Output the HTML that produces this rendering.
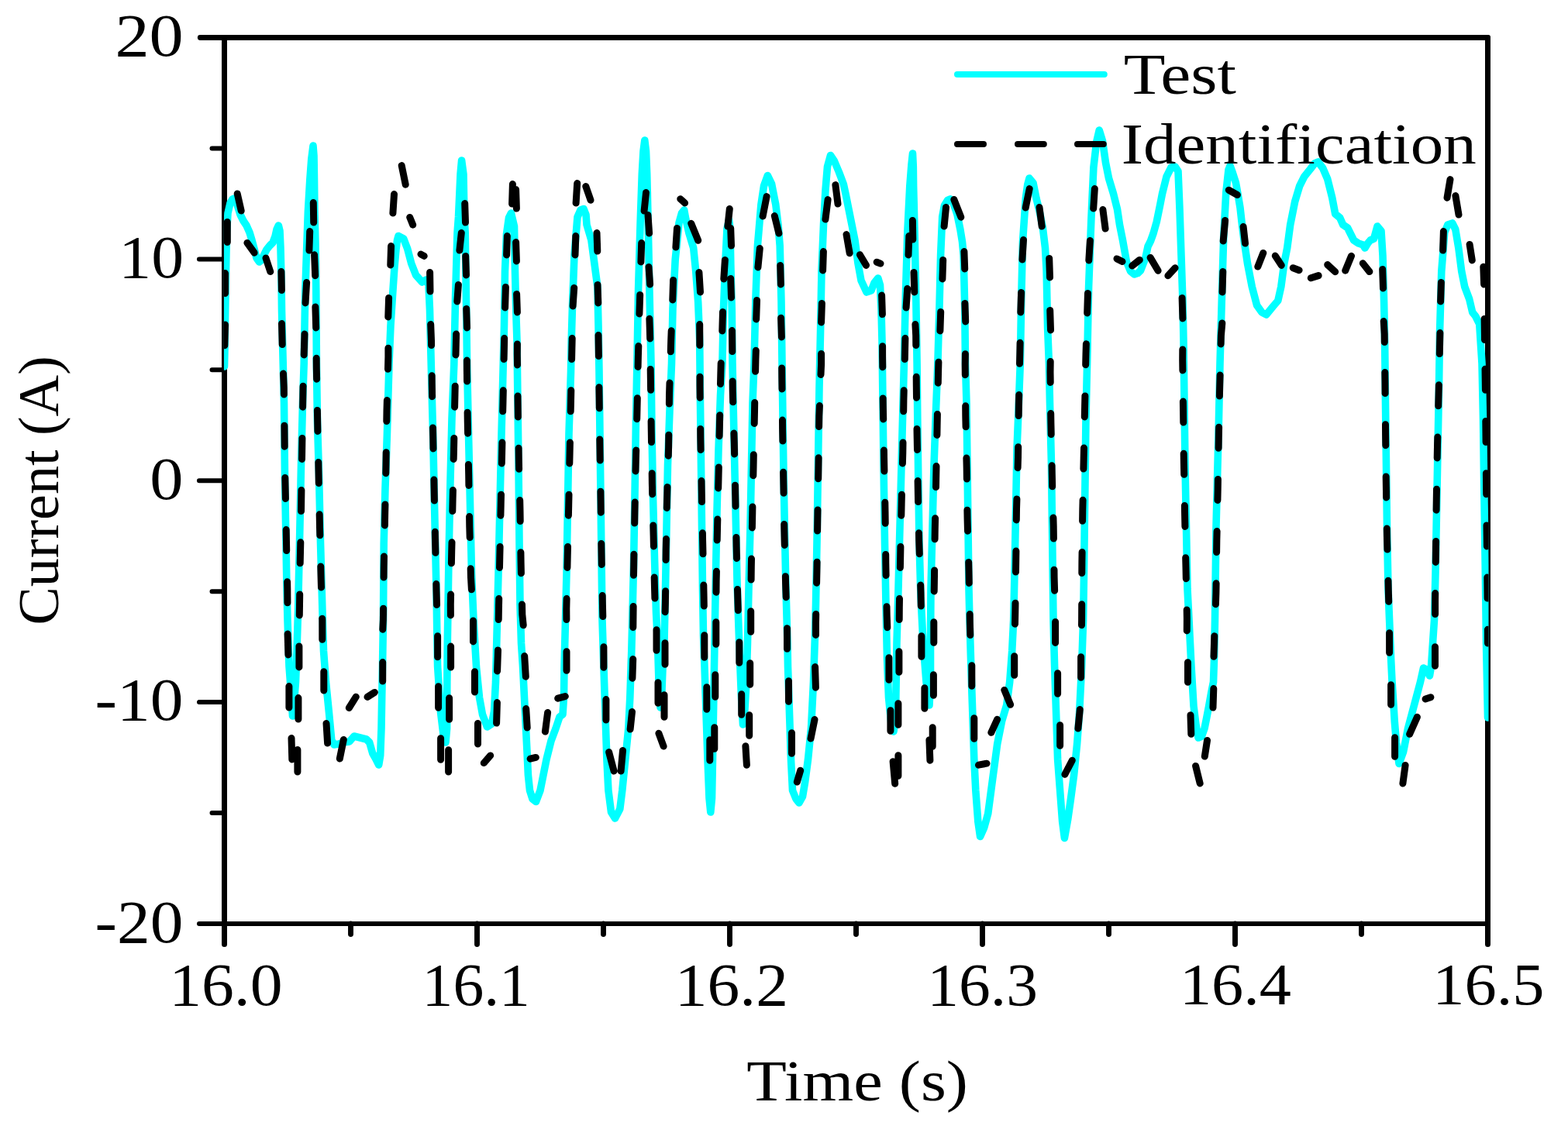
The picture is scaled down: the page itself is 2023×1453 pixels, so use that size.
<!DOCTYPE html><html><head><meta charset="utf-8"><title>Current vs Time</title><style>html,body{margin:0;padding:0;background:#fff;}svg{display:block;}text{font-family:"Liberation Serif","Times New Roman",serif;fill:#000;font-variant-ligatures:none;}</style></head><body>
<svg width="2023" height="1453" viewBox="0 0 2023 1453">
<rect x="0" y="0" width="2023" height="1453" fill="#fff"/>
<defs><clipPath id="pc"><rect x="288.9" y="48.5" width="1631.6" height="1143.5"/></clipPath></defs>
<g fill="none" stroke="#000" stroke-linecap="round">
<path d="M289.5 48.5 L289.5 1218.5 M1919.5 48.5 L1919.5 1218.5" stroke-width="7.0"/>
<path d="M258.3 48.5 L1919.5 48.5" stroke-width="6.9"/>
<path d="M256.9 1192.0 L1919.5 1192.0" stroke-width="6.0"/>
<path d="M289.5 334.4 L256.9 334.4 M289.5 620.2 L256.9 620.2 M289.5 906.1 L256.9 906.1 M289.5 191.4 L273.5 191.4 M289.5 477.3 L273.5 477.3 M289.5 763.2 L273.5 763.2 M289.5 1049.1 L273.5 1049.1" stroke-width="6.0"/>
<path d="M615.5 1192.0 L615.5 1218.5 M941.5 1192.0 L941.5 1218.5 M1267.5 1192.0 L1267.5 1218.5 M1593.5 1192.0 L1593.5 1218.5 M452.5 1192.0 L452.5 1205.5 M778.5 1192.0 L778.5 1205.5 M1104.5 1192.0 L1104.5 1205.5 M1430.5 1192.0 L1430.5 1205.5 M1756.5 1192.0 L1756.5 1205.5" stroke-width="6.9"/>
</g>
<g clip-path="url(#pc)" fill="none" stroke-linecap="round" stroke-linejoin="round">
<path d="M289.5 473 L290 450 L290.5 415 L291.5 350 L292.5 300 L294 275 L297 262 L300 257 L302.5 256 L306 264 L310 277 L314 285 L318 291 L322 300 L325 310 L328 321 L331 333 L334.5 338 L337 336 L340 330 L344 322 L348 317 L352 313 L355 305 L357 296 L359.3 291 L361 298 L362 320 L363 360 L363.5 400 L364.5 440 L366.5 520 L367.5 617 L369 700 L370 760 L371 800 L373 860 L376 900 L377.5 924 L379.5 905 L381.5 880 L383 840 L384.5 790 L386.5 700 L388.5 600 L390.5 520 L392.2 469 L393.8 376 L395.9 314 L397.4 273 L399.8 232 L401.8 205 L404 188 L405 201 L405.5 232 L406 273 L407 314 L407.8 376 L408.4 469 L409.5 545 L411.5 612 L413.5 700 L416 790 L417.5 840 L420.5 880 L424.5 920 L427.8 955 L431 961 L437 960 L442.8 958 L450.8 957 L456.8 950 L464.8 952 L472.7 954 L476.7 958 L480.7 972 L484.7 979 L488.7 987 L490.7 975 L492 940 L492.7 900 L493.5 860 L494.5 800 L495.2 702 L497 630 L499.4 561 L502 469 L504 420 L506.4 383 L509 344 L511 322 L512.5 310 L514 304.5 L520.7 308 L525.7 321 L530.7 340 L536.6 355 L544.6 364 L549.6 361 L553 368 L554.5 400 L555.5 440 L557 500 L558.7 563 L560.1 630 L561.5 697 L563 763 L564 830 L564.6 860 L568.6 920 L572.5 952 L575 958 L576.6 940 L576.8 880 L577.3 829 L579 720 L581 620 L583 540 L585.8 470 L587.6 382 L590 300 L591.5 280 L594 225 L595.6 207 L598 225 L599 280 L600.2 300 L601.4 382 L602.6 470 L604.5 560 L606.5 650 L608.5 740 L611 800 L614.5 860 L618.5 900 L622.5 922 L628.5 938 L634.5 934 L637.5 918 L639.5 880 L641.5 800 L643 740 L645 650 L647 560 L649 480 L650.5 420 L651.5 350 L653.5 302 L656.5 281 L659.5 275 L663.5 292 L664.5 350 L666 410 L667 440 L668 520 L669 600 L670 700 L671 780 L672.5 830 L674.5 860 L676.5 900 L678.5 940 L680 970 L681.4 1000 L683.5 1020 L687 1031 L691.5 1034.5 L697 1020 L701 1000 L705 980 L711 956 L717 940 L722 925 L726 922 L727.5 900 L728 860 L729.5 800 L731 740 L732.5 650 L734 560 L736.5 480 L737.2 440 L738.5 395 L741 329 L745 280 L749 271 L753 269.5 L756 277 L757 290 L762.9 310 L766.9 340 L770.9 370 L772 420 L773 480 L774 560 L775 640 L776 720 L777 800 L778.9 860 L780.9 920 L782.9 980 L784.9 1020 L788.5 1048 L793.5 1056 L799.8 1044 L802.8 1020 L804.8 1000 L807.8 970 L810.8 940 L812.8 900 L814.8 840 L815.8 800 L817.5 730 L819 640 L820.5 540 L821.9 469 L823.6 373 L826.1 288 L828.3 224 L830 195 L831.8 181 L833.5 195 L834.7 224 L836.2 288 L837.9 373 L840 469 L841 557 L842.5 640 L844.5 720 L846.5 790 L848.5 830 L850 880 L852 913 L854 890 L855.5 850 L857 829 L858.5 760 L860 680 L861.5 600 L864 530 L866.5 469 L868 398 L871.2 335 L876 287.5 L879.5 275 L882.7 271 L884.7 282 L888.7 300 L894.7 320 L897.7 350 L900.7 390 L902.7 440 L903.5 520 L904.5 600 L905.5 680 L906.5 760 L907.5 820 L909 860 L911 920 L913 980 L915 1030 L916.8 1048 L918.5 1030 L919.5 980 L920.5 920 L921.5 860 L922.5 800 L923.5 740 L925 660 L927 580 L929.5 510 L931.9 469 L933.4 401 L935.7 341 L938 295 L940.5 284 L942 295 L942.8 341 L944.3 401 L945 469 L946.5 540 L948 610 L949.5 680 L951 750 L953 810 L954.5 850 L956.5 900 L958.5 935 L961 915 L963 880 L964.5 829 L966 760 L968 680 L969.5 600 L971 520 L973 469 L974.8 389 L977.4 317 L981.9 264 L985.5 240 L990.4 226.5 L995.5 237 L1000.8 264 L1004 290 L1006.2 317 L1008 389 L1009 469 L1010 540 L1011 610 L1012.5 690 L1014 760 L1016 830 L1016.5 860 L1018.5 920 L1020.5 980 L1022.5 1020 L1027 1031 L1031 1036 L1035.5 1028 L1038.5 1010 L1042.5 980 L1046.5 940 L1049.5 880 L1051.5 820 L1052.5 780 L1054 700 L1055.5 600 L1057 500 L1058.5 430 L1060 350 L1062.5 290 L1065 245 L1067.5 215 L1071.5 200.5 L1076.5 208 L1082.4 222 L1088.4 238 L1091 250 L1095 270 L1099 290 L1103 310 L1107 340 L1111 362 L1118 377 L1124 375 L1128 365 L1132.8 359 L1135.5 368 L1137 400 L1138 440 L1139 520 L1140 600 L1141.5 700 L1143 780 L1144.5 850 L1146.5 900 L1150 935 L1153 944 L1155.5 920 L1156.5 860 L1157 829 L1159 760 L1161 680 L1163 600 L1164.8 530 L1166.4 469 L1168.4 380 L1170.8 300 L1173.8 240 L1176 212 L1177.5 198 L1178.3 215 L1178.6 240 L1180.1 300 L1181.7 380 L1183.1 469 L1183.8 540 L1184.8 620 L1186 700 L1188 770 L1191 829 L1195 880 L1199 910 L1200.5 880 L1200.5 829 L1201 760 L1203 680 L1205 600 L1207.5 530 L1209.9 469 L1212 395 L1213.6 329 L1215.7 280 L1218.5 265 L1222.5 258.5 L1226 257 L1230 262 L1235 277 L1238.9 296 L1241.5 312 L1243.1 329 L1244.7 395 L1245.5 469 L1247 520 L1248 600 L1249 680 L1250 760 L1251 800 L1252.8 860 L1254.8 920 L1256.8 980 L1258.8 1020 L1261.8 1060 L1264.6 1079.5 L1269.7 1068 L1274.7 1050 L1278.7 1020 L1282.7 990 L1286.7 960 L1292.7 930 L1298.7 910 L1302.7 880 L1305.7 840 L1307.7 800 L1309 740 L1310.5 660 L1312 580 L1314 530 L1316.3 469 L1317.7 386 L1319.5 311.5 L1323.3 256 L1325.8 238 L1328 230 L1333 236 L1337 256 L1341 272 L1345.5 295 L1348.5 320 L1350.1 349 L1351.6 423 L1353.4 469 L1354.5 520 L1356.5 600 L1357.5 680 L1358.5 760 L1359 800 L1360.6 860 L1362.6 920 L1364.6 980 L1367.6 1020 L1370.6 1060 L1373.4 1081.5 L1377.6 1058 L1381.6 1030 L1385.6 1000 L1389.6 960 L1392.6 920 L1395.6 860 L1397.6 800 L1398.5 740 L1399.5 660 L1400.5 580 L1401 540 L1402.6 469 L1404.6 370 L1407.9 282 L1410.9 216 L1414.7 183 L1418.2 168 L1422.5 182 L1426.5 210 L1430.5 230 L1436.5 250 L1441.5 270 L1444.5 290 L1448.5 310 L1453.5 338 L1458.5 350 L1463.5 354 L1468 352.5 L1471.6 349 L1477.8 333 L1481 318 L1484.5 311 L1488.1 301 L1492.3 286 L1496.4 266 L1499.5 250 L1502 240 L1505 228 L1511 216 L1516 215 L1520 221 L1522 270 L1524 330 L1526 390 L1527 440 L1528 520 L1529 600 L1530.5 680 L1532 760 L1534 800 L1537 860 L1538.5 885 L1540 911 L1543 935 L1546 952 L1550.5 950 L1554 940 L1557 925 L1559.7 911 L1562.5 895 L1565.5 880 L1566.5 850 L1567.5 800 L1568 760 L1569 680 L1571 600 L1572.5 540 L1574 469 L1576.4 383 L1578.7 306 L1581.8 248 L1585 219 L1587 214 L1590 222 L1594.5 236 L1597 250 L1600 268 L1602 286 L1605 310 L1609.5 340 L1615.3 370 L1621.6 394 L1628 403 L1633.8 406 L1642.8 395 L1648.8 388 L1652.8 370 L1656.8 340 L1660.7 320 L1664.7 290 L1670.7 260 L1676.7 240 L1682.7 228 L1690.7 218 L1696 211 L1700.7 209 L1706.7 217 L1712.7 231 L1718.7 255 L1722.7 276 L1728.7 281 L1732.7 290 L1738.6 294 L1742.6 302 L1746.6 310 L1752.6 314 L1758.6 316 L1761 320 L1764.6 314 L1768 310 L1772.6 308 L1777 292 L1782 298 L1784 330 L1785.6 390 L1786.6 440 L1787.5 520 L1788.5 600 L1789.5 680 L1791 760 L1792.6 800 L1794.6 850 L1796 879 L1797.7 905 L1799.3 931.5 L1801.5 958 L1805 985.5 L1810.6 970 L1816.5 940 L1824.5 910 L1832.5 880 L1836.5 862 L1840.5 864 L1844.5 872 L1846.5 860 L1848.5 830 L1850.5 800 L1852 740 L1853.5 660 L1855 580 L1856.5 500 L1857.5 430 L1859.8 350 L1863.8 300 L1867.8 290 L1873.8 288 L1877.8 296 L1881.8 320 L1885.7 350 L1889.7 370 L1895.7 386 L1899.7 403 L1903.7 408 L1908.7 418 L1912 469 L1913.5 540 L1915 650 L1916.5 750 L1917.5 830 L1919.5 926" stroke="#00ffff" stroke-width="9.6"/>
<path d="M289.8 445.8 L290.5 420 L290.5 418.9 M290.5 378.6 L290.5 352.6 M293.3 312.6 L293.3 286.4 M306.2 249.9 L311.2 272 M318.9 313.4 L328.1 326.2 M343 333.1 L348.8 350.6 M362.9 350.4 L363.4 374.6 M363.5 417.6 L364.2 444.6 M365.5 482 L366.3 500 L366.4 509 M366.9 549.2 L367.2 576.2 M367.8 616.4 L368.4 643.4 M369.2 683.6 L369.5 700 L369.7 710.6 M370.6 750.8 L370.8 760 L370.9 777.8 M371.1 818 L371.9 844.9 M372.9 885.6 L372.9 913 M376 952.5 L376.8 980 M383.9 996 L383.9 967.5 M384.9 928 L384.9 900.6 M385.9 860.9 L385.9 833.9 M386.3 793.9 L386.5 781 L386.7 766.9 M387.2 726.8 L387.8 699.8 M388.5 659.6 L388.9 632.6 M389.5 592.4 L389.9 565.4 M390.6 525.2 L391 500 L391.1 498.2 M392.2 458 L393 431 M394 391 L395.6 364.4 M398.9 323.1 L399.7 298.5 M404.3 261.5 L404.7 287.1 M405.6 328.7 L406.7 355.7 M406.9 395.9 L407.7 422.9 M408.2 462.3 L408.3 475 L408.6 489.2 M409.4 529.4 L409.7 545 L409.9 556.4 M410.8 596.6 L411.1 612 L411.3 623.6 M412.2 663.8 L412.5 680 L412.8 690.8 M413.8 731 L414.2 748 L414.5 758 M415.7 798.2 L415.8 800 L415.8 825.2 M417.8 866.8 L417.8 891.1 M421 933.5 L422.6 959.1 M438.3 979 L443.3 954.5 M450.3 913.5 L459.3 899.2 M474 899.4 L483.4 893.4 M493.7 879.1 L493.7 854.6 M493.8 812.2 L494.4 800 L494.6 785.2 M495.1 745 L495.2 733 L495.5 718 M496.4 677.9 L496.6 666 L496.9 650.9 M497.8 610.7 L498 600 L498.2 583.7 M498.8 543.5 L499 530 L499.4 516.5 M500.5 476.3 L500.9 460 L500.9 449.3 M500.8 408.9 L501.6 384.4 M503.8 342 L504.6 317.5 M506.9 275.1 L508.5 250.6 M518.2 213.6 L523.2 238.2 M528.7 280.4 L532.7 290.2 M543 328.1 L547.2 330.4 M554.6 351.4 L555 376 M555.7 418.6 L556.5 440 L556.6 445.6 M557.2 484.8 L557.3 495 L557.6 511.7 M558.5 551.9 L558.7 563 L559 578.9 M559.9 619.1 L560.1 630 L560.4 646.1 M561.3 686.3 L561.5 697 L561.9 713.3 M562.8 753.5 L563 763 L563.5 780.5 M564.6 820.7 L564.6 847.7 M565.6 885.8 L565.6 913.2 M568.6 952.8 L568.6 980.2 M578.6 996 L578.6 967.8 M579.6 928.2 L579.6 900.8 M581.6 861.1 L581.6 834.1 M581.4 793.9 L581.3 780 L581.6 767 M582.4 726.8 L582.7 712 L583 699.8 M583.8 659.6 L584.1 645 L584.4 632.6 M585.2 592.4 L585.5 580 L585.8 565.4 M586.6 525.2 L586.9 512 L587.2 498.2 M588 458 L588.3 445 L588.6 431 M589.8 389 L591.4 367.4 M592.9 323.1 L595.3 300.5 M599.7 262.5 L600.5 287.1 M600.7 330.4 L601.5 355 M601.7 398.4 L602.5 422.9 M602.4 465.1 L602.4 478 L602.6 492 M603.1 532.2 L603.3 545 L603.6 559.2 M604.4 599.4 L604.7 612 L604.9 626.4 M605.6 666.6 L605.8 680 L606.2 693.6 M607.2 733.8 L607.5 745 L608.4 760.8 M610.5 800.9 L610.5 827.9 M612.5 866.8 L612.5 893.1 M616.5 933.5 L616.5 960 M624.3 984.6 L632.7 974.9 M640.6 933.1 L641.4 906.6 M641.6 865.9 L642.5 838.9 M643.2 799.5 L643.4 786 L643.7 772.6 M644.5 732.4 L644.8 718 L645.1 705.4 M645.9 665.2 L646.2 652 L646.5 638.2 M647.3 598 L647.6 585 L647.9 571 M648.7 530.8 L649 518 L649.3 503.8 M650.1 463.6 L650.4 450 L650.7 436.6 M651.6 397 L652.4 370.4 M653.6 329 L654.4 304.5 M660.6 263.1 L661.4 237.6 M665.6 244.6 L666.4 269.1 M665.6 312.5 L666.4 337 M666.6 379.4 L667.4 402.9 M667.4 444 L667.3 457 L667.5 470.9 M668 511.1 L668.2 525 L668.4 538.1 M669.1 578.3 L669.3 592 L669.6 605.3 M670.7 645.5 L671 659 L671.2 672.5 M671.9 712.7 L672.1 726 L672.4 739.7 M673.5 779.9 L673.8 793 L675.2 806.8 M676.7 846.6 L678.3 873.2 M678.7 914.5 L680.2 939.1 M684.1 979.2 L691.3 977.4 M703.4 944.1 L706.6 919.5 M719.7 901.2 L729.3 898.6 M731 865.2 L731 840.8 M730.9 799.5 L730.8 786 L731.1 772.6 M731.9 732.4 L732.2 718 L732.5 705.4 M733.4 665.2 L733.7 652 L734 638.2 M734.8 598 L735.1 585 L735.4 571 M736.2 530.8 L736.5 518 L736.8 503.8 M737.6 463.6 L737.9 449 L738.2 436.6 M739.1 395 L740.7 371.4 M742 329 L742.8 304.5 M743.1 262.1 L744.7 236.6 M755.8 240.5 L762 258.2 M770 300.5 L770.8 324.1 M771 367.4 L771.8 391 M772 432.6 L772.4 459.6 M772.9 499.8 L773.1 512 L773.3 526.8 M773.8 567 L774 580 L774.2 594 M774.9 634.2 L775.1 646 L775.3 661.2 M775.8 701.4 L776 713 L776.3 728.4 M777.2 768.6 L777.4 780 L777.8 795.6 M778.9 834.8 L778.9 861.2 M781.9 902.6 L781.9 929 M785.6 970.5 L792.1 995 M801.1 995 L803.5 968.5 M813.1 941.1 L815.5 918.5 M815.9 875.2 L816.7 850.6 M816.8 809.5 L817.1 782.5 M817.5 742.3 L817.7 728 L817.9 715.3 M818.7 675.1 L818.9 662 L819.2 648.1 M820 607.9 L820.3 595 L820.7 580.9 M821.7 540.7 L822 527 L822.3 513.7 M823.1 473.5 L823.4 460 L823.8 446.5 M824.9 404.9 L825.7 380.4 M826.9 338 L827.7 313.5 M831.1 272.1 L833.5 248.6 M836 277.5 L837.6 301.1 M837 344.4 L838.6 367 M837.9 411.3 L838.7 436.9 M839.2 476.4 L839.4 490 L839.6 503.3 M840.1 543.5 L840.3 557 L840.5 570.5 M841.2 610.7 L841.4 625 L841.7 637.7 M842.8 677.9 L843.1 691 L843.4 704.9 M844.2 745.1 L844.5 758 L844.9 772.1 M847 812.8 L847 839.2 M849 880.8 L849 907.2 M849.9 946.3 L856.1 963 M857 925.2 L857 896.8 M858 857.2 L858 829.8 M858.1 789.7 L858.4 778 L858.6 762.7 M859.1 722.5 L859.2 710 L859.5 695.6 M860.3 655.4 L860.6 643 L861 628.4 M862.3 588.2 L862.6 577 L862.8 561.2 M863.4 521 L863.5 510 L864 494 M865.3 453.8 L865.7 440 L866.2 426.8 M867.8 387 L868.6 361.4 M871.9 319.1 L873.5 294.5 M877.8 256.7 L883.6 262 M891.7 288.3 L900.7 310.3 M901.9 351.4 L903.5 377 M902.7 418.6 L902.8 445.6 M903 486.3 L903 498 L903.2 513.2 M903.7 553.4 L903.8 565 L904.1 580.4 M905 620.6 L905.2 632 L905.5 647.6 M906.4 687.8 L906.6 698 L907 714.8 M907.8 755 L908 765 L908.3 782 M908.8 819.8 L908.8 848.2 M911.8 886.8 L911.8 915.2 M915.8 954.8 L915.8 981.2 M921.8 966.2 L921.8 938.8 M922.8 899.2 L922.8 870.8 M923.8 831.2 L923.8 802.8 M924 764.2 L924.1 750 L924.4 737.3 M925.2 697.1 L925.5 683 L925.8 670.1 M926.7 629.9 L927 617 L927.3 602.9 M928.1 562.7 L928.4 550 L928.7 535.7 M929.5 495.5 L929.8 483 L930.2 468.5 M931.8 426.9 L932.5 402.4 M933.8 360 L935.4 335.4 M938.9 292.1 L941.3 269.5 M942.7 294.5 L943.5 317.1 M942.7 359.4 L943.5 384 M944.5 426.6 L944.8 453.6 M945.2 491.9 L945.3 505 L945.7 518.8 M946.9 559 L947.3 571 L947.6 586 M948.5 626.2 L948.7 638 L949 653.2 M949.9 693.4 L950.1 705 L950.5 720.4 M951.5 760.6 L951.8 772 L952.3 787.6 M953.8 828.8 L953.8 855.2 M956.7 895.8 L956.7 922.2 M961.9 962.7 L963.4 987.3 M966.7 949.2 L966.7 922.8 M967.7 883.2 L967.7 855.8 M968.7 815.2 L968.7 788.8 M969.1 748.1 L969.3 731 L969.5 721.1 M970.4 680.9 L970.7 665 L970.9 653.9 M971.8 613.7 L972.1 598 L972.3 586.7 M973.2 546.5 L973.5 531 L973.7 519.5 M974.6 479.3 L974.9 465 L975.3 452.3 M975.7 411.9 L976.5 387.4 M977.9 345 L980.3 320.5 M984.1 279.1 L989.1 253.6 M999.3 278.5 L1004.9 301.1 M1006.7 342.4 L1007.4 367 M1007.6 410.3 L1008.4 434.9 M1008.7 475 L1008.8 488 L1009 501.9 M1009.5 542.1 L1009.6 554 L1009.9 569.1 M1010.6 609.3 L1010.8 620 L1011.1 636.3 M1011.7 676.5 L1011.9 686 L1012.3 703.5 M1013.4 743.7 L1013.6 753 L1014.2 770.7 M1015.5 810.8 L1015.5 837.2 M1017.5 878.8 L1017.5 905.2 M1021.5 945.8 L1021.5 972.2 M1028.3 1009.1 L1032.7 994.3 M1046 953.1 L1051 928.5 M1052.4 887.2 L1051.6 860.6 M1052.5 819.4 L1052.5 804 L1052.7 792.4 M1053.6 752.2 L1053.9 737 L1054.1 725.2 M1054.6 685 L1054.8 670 L1055 658 M1055.7 617.8 L1055.9 604 L1056.1 590.8 M1056.6 550.6 L1056.8 537 L1057.4 523.6 M1059 483.4 L1059.6 470 L1059.6 456.4 M1059.6 415.9 L1060.4 391.4 M1061.6 349 L1062.4 324.5 M1064.9 283.1 L1068.1 257.6 M1077.9 238.6 L1081 263.1 M1092 302.6 L1096.2 326.7 M1109.4 328.7 L1117.5 342.4 M1131.2 338.2 L1136 340.1 M1137.6 381.1 L1138.4 405.6 M1138.6 446.8 L1138.6 460 L1138.8 473.7 M1139.2 513.9 L1139.4 527 L1139.7 540.9 M1140.4 581.1 L1140.6 593 L1140.9 608.1 M1141.8 648.3 L1142 660 L1142.2 675.3 M1142.7 715.5 L1142.8 727 L1143.1 742.5 M1144 782.7 L1144.2 794 L1144.8 809.7 M1146.9 848.8 L1146.9 877.2 M1148.9 916.8 L1148.9 943.2 M1152.1 982.7 L1154.7 1011.3 M1158.9 1001.2 L1158.9 974.8 M1158.9 935.2 L1158.9 907.8 M1159.9 867.2 L1159.9 840.8 M1160.2 799.5 L1160.3 784 L1160.5 772.6 M1161.4 732.4 L1161.7 717 L1161.9 705.4 M1162.8 665.2 L1163.1 651 L1163.4 638.2 M1164.4 598 L1164.8 584 L1165 571 M1165.7 530.8 L1165.9 517 L1166.2 503.8 M1167.3 463.6 L1167.6 450 L1167.9 436.6 M1169.1 397 L1170.7 372.4 M1172 329 L1172.8 304.5 M1177.4 284.5 L1177.8 309.1 M1179 351.4 L1179.8 377 M1180.9 418.6 L1181.7 433 L1181.8 445.6 M1182.2 486.3 L1182.3 498 L1182.5 513.2 M1183 553.4 L1183.2 565 L1183.5 580.4 M1184.1 620.6 L1184.3 632 L1184.6 647.6 M1185.5 687.8 L1185.7 698 L1186.3 714.8 M1187.7 755 L1188 765 L1188.3 782 M1188.9 820.8 L1188.9 847.2 M1192.9 887.8 L1192.9 914.2 M1198.9 954.7 L1199.9 981.3 M1203.2 963.2 L1203.2 938.8 M1204.4 897.2 L1204.4 870.8 M1204.8 829.2 L1204.8 802.8 M1205.2 762.9 L1205.4 750 L1205.6 736 M1206.1 695.8 L1206.3 683 L1206.6 668.8 M1207.5 628.6 L1207.7 617 L1208 601.6 M1208.9 561.4 L1209.1 550 L1209.4 534.4 M1210.3 494.2 L1210.5 483 L1210.9 467.2 M1212.9 426.9 L1213.7 402.4 M1215.9 360 L1216.7 335.4 M1218.1 292.1 L1220.5 267.5 M1230.8 257.5 L1239.8 280.2 M1243.9 324.5 L1244.7 347 M1244.9 391.4 L1245.7 414.9 M1245.4 456.7 L1245.2 470 L1245.3 483.7 M1245.7 523.8 L1245.8 537 L1246.1 550.8 M1246.9 591 L1247.2 604 L1247.4 618 M1247.9 658.2 L1248.1 670 L1248.5 685.2 M1249.7 725.4 L1250 737 L1250.3 752.4 M1251.2 792.6 L1251.4 804 L1251.8 819.6 M1253.8 858.8 L1253.8 885.2 M1256.8 926.8 L1256.8 953.2 M1262.5 987.2 L1273 985.2 M1278.8 945.3 L1286.6 928.3 M1295.8 890.4 L1303.6 909.3 M1308.7 871.2 L1308.7 846.8 M1309.5 805.2 L1309.8 790 L1310 778.2 M1310.5 738.1 L1310.7 724 L1310.9 711.1 M1311.3 670.9 L1311.5 657 L1311.9 643.9 M1313.1 603.7 L1313.5 590 L1313.7 576.7 M1314.2 536.5 L1314.4 523 L1314.7 509.5 M1315.5 469.3 L1315.8 457 L1316.1 442.3 M1316.8 402.9 L1317.6 377.4 M1318.9 335 L1320.5 309.5 M1323.2 268.1 L1328.2 243.6 M1341 267.5 L1344.2 292.1 M1353.7 333.4 L1354.5 358 M1354.7 400.4 L1355.5 425.9 M1355.2 466.5 L1355 480 L1355.2 493.4 M1355.7 533.6 L1355.9 546 L1356.2 560.6 M1357.1 600.8 L1357.3 612 L1357.7 627.8 M1358.9 668 L1359.2 679 L1359.4 695 M1360 735.2 L1360.1 745 L1360.6 762.2 M1361.6 802.4 L1361.6 829.4 M1364.6 868.8 L1364.6 895.2 M1367.6 935.8 L1367.6 962.2 M1373.9 999.3 L1383.3 981.2 M1390.9 940.1 L1393.3 915.5 M1394.6 874.2 L1394.6 847.8 M1395.5 806.7 L1395.6 800 L1395.7 779.7 M1395.8 739.5 L1395.9 725 L1396.1 712.5 M1396.6 672.3 L1396.8 658 L1397.1 645.3 M1397.9 605.1 L1398.2 591 L1398.5 578.1 M1399.3 537.9 L1399.6 524 L1399.9 510.9 M1400.7 470.7 L1401 457 L1401.4 443.7 M1402.7 403.9 L1403.5 378.4 M1404.8 336 L1406.4 310.5 M1410.7 269.1 L1412.3 243.6 M1422.9 270.5 L1426.1 295.1 M1441 333.9 L1448 337.5 M1460.7 343 L1470.3 335.4 M1484.1 332.4 L1494.1 349.3 M1506.9 355.7 L1516.1 345.7 M1525.1 384.4 L1525.9 410.9 M1525.8 451 L1525.7 465 L1525.9 477.9 M1526.4 518.1 L1526.6 531 L1526.8 545.1 M1527.2 585.3 L1527.4 598 L1527.7 612.3 M1528.4 652.5 L1528.6 665 L1528.9 679.5 M1529.7 719.7 L1530 732 L1530.3 746.7 M1531.2 786.9 L1531.4 798 L1531.3 813.9 M1532.5 854.8 L1532.5 880.2 M1536 922.7 L1536.8 947.3 M1542.6 988.4 L1548.2 1011 M1554.3 976.1 L1557.5 955.5 M1565 913.1 L1565.8 888.6 M1566 847.3 L1566.8 820.7 M1568.4 779.8 L1568.9 765 L1569.1 752.8 M1569.6 712.6 L1569.8 698 L1570.1 685.6 M1570.9 645.5 L1571.2 632 L1571.4 618.5 M1572.1 578.3 L1572.3 565 L1572.6 551.3 M1573.4 511.1 L1573.7 498 L1574.1 484.1 M1575.1 443.9 L1575.4 433 L1576.8 417 M1577 377 L1577.8 350.4 M1578.2 311.1 L1580.6 284.5 M1585.3 245.3 L1596.4 251.5 M1604.1 292.5 L1606.5 314.1 M1622.8 344.1 L1629.8 326.4 M1645.3 330.1 L1653.3 342.4 M1668.3 345.7 L1676.1 348.7 M1691.3 358.8 L1701.1 355.6 M1712.7 341.6 L1722.7 350.8 M1735.7 349.2 L1743.5 330.3 M1758.3 339.8 L1766.9 350.6 M1783.7 347.4 L1784.5 372 M1785.2 414.6 L1786.2 431 L1786.3 441.6 M1786.8 480.6 L1787 494 L1787.1 507.6 M1787.5 547.7 L1787.6 561 L1787.8 574.7 M1788.2 614.9 L1788.4 628 L1788.6 641.9 M1789.3 682.1 L1789.5 695 L1789.9 709.1 M1791 749.3 L1791.3 762 L1791.7 776.3 M1792.6 816.8 L1792.6 842.2 M1794.6 883.8 L1794.6 909.2 M1799.6 951.8 L1799.6 976.2 M1809.9 1011 L1813.1 987.4 M1818.6 947.3 L1828.4 925.3 M1839.1 902 L1845.9 899.8 M1851.5 859.2 L1851.5 834.8 M1851.6 792.5 L1851.6 776 L1851.7 765.6 M1852.3 725.4 L1852.5 709 L1852.6 698.4 M1853.1 658.2 L1853.3 643 L1853.5 631.2 M1854.2 591 L1854.5 576 L1854.8 564 M1855.7 523.8 L1856.1 509 L1856.4 496.8 M1857.3 456.6 L1857.6 443 L1857.9 429.6 M1858.6 389 L1859.4 364.4 M1861.6 323.1 L1862.4 298.5 M1867 255.2 L1871 231.6 M1877.9 252.6 L1882 277.1 M1896.1 315.4 L1899.3 335.9 M1913.8 344.3 L1914.6 366.9 M1915.1 411.5 L1915.5 438.5 M1916 476.3 L1916.4 503.3 M1916.8 543.5 L1917.1 570.5 M1917.4 610.7 L1917.7 637.7 M1918 677.9 L1918.4 704.9 M1918.8 745.1 L1919.1 772.1 M1919.4 812.3 L1919.5 830" stroke="#000" stroke-width="9.0"/>
</g>
<g fill="none" stroke-linecap="round" stroke-width="8.0">
<path d="M1235 96 L1424.8 96" stroke="#00ffff"/>
<path d="M1235 186 L1269 186 M1313 186 L1346.8 186 M1390 186 L1423.8 186" stroke="#000"/>
</g>
<text transform="matrix(1.1768 0.0000 0.0000 1.0347 148.4696 71.6000)" font-size="75">20</text>
<text transform="matrix(1.1169 0.0000 0.0000 1.0388 153.2815 357.5000)" font-size="75">10</text>
<text transform="matrix(1.1531 0.0000 0.0000 1.0408 193.3406 644.0000)" font-size="75">0</text>
<text transform="matrix(1.1394 0.0000 0.0000 1.0388 122.4819 928.7000)" font-size="75">-10</text>
<text transform="matrix(1.1383 0.0000 0.0000 1.0408 122.5851 1216.0000)" font-size="75">-20</text>
<text transform="matrix(1.1157 0.0000 0.0000 1.0408 218.1901 1297.0000)" font-size="75">16.0</text>
<text transform="matrix(1.0617 0.0000 0.0000 1.0490 544.5683 1297.0000)" font-size="75">16.1</text>
<text transform="matrix(1.1142 0.0000 0.0000 1.0490 870.8008 1297.0000)" font-size="75">16.2</text>
<text transform="matrix(1.0876 0.0000 0.0000 1.0469 1196.2868 1297.3000)" font-size="75">16.3</text>
<text transform="matrix(1.0976 0.0000 0.0000 1.0122 1521.9171 1295.6000)" font-size="75">16.4</text>
<text transform="matrix(1.0992 0.0000 0.0000 1.0102 1848.3058 1295.5000)" font-size="75">16.5</text>
<text transform="matrix(1.1269 0.0000 0.0000 0.9848 963.2731 1419.5273)" font-size="75">Time (s)</text>
<text transform="matrix(0.0000 -0.9864 0.9909 0.0000 75.3364 806.4592)" font-size="75">Current (A)</text>
<text transform="matrix(1.1730 0.0000 0.0000 0.9980 1449.7270 120.7000)" font-size="75">Test</text>
<text transform="matrix(1.1340 0.0000 0.0000 0.9769 1446.6980 210.6000)" font-size="75">Identification</text>
</svg></body></html>
